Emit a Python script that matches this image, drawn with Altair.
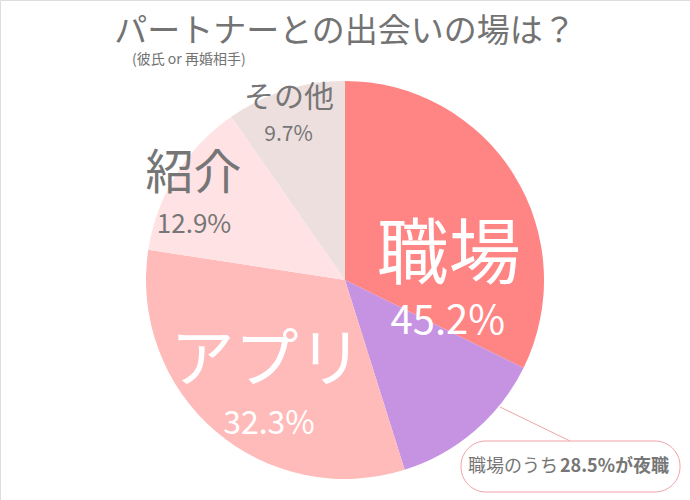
import altair as alt
import pandas as pd

# ---- data ----
categories = ["職場", "アプリ", "紹介", "その他"]
shares = [45.2, 32.3, 12.9, 9.7]
share_labels = ["45.2%", "32.3%", "12.9%", "9.7%"]
night_share_of_workplace = 28.5  # % of 職場 that is 夜職
slice_names = ["職場(昼)", "夜職", "アプリ", "紹介", "その他"]
slice_colors = ["#FF8585", "#C693E3", "#FFBABA", "#FFE2E4", "#EEDFDF"]
title_text = "パートナーとの出会いの場は？"
subtitle_text = "(彼氏 or 再婚相手)"
note_plain = "職場のうち"
note_bold = "28.5%が夜職"

workplace_night = shares[0] * night_share_of_workplace / 100
slice_values = [shares[0] - workplace_night, workplace_night] + shares[1:]
slices = pd.DataFrame({"name": slice_names, "value": slice_values, "order": list(range(len(slice_names)))})
labels = pd.DataFrame({"cat": categories, "value": shares, "pct": share_labels,
                       "order": list(range(len(categories)))})

CX, CY, R = 345, 280, 199
FONT = "Noto Sans CJK JP"
GRAY = "#767676"

pie = alt.Chart(slices).mark_arc(radius=R).encode(
    theta=alt.Theta("value:Q", stack=True),
    color=alt.Color("name:N", scale=alt.Scale(domain=slice_names, range=slice_colors), legend=None),
    order=alt.Order("order:Q"),
    x=alt.value(CX), y=alt.value(CY),
)


def label_layer(cat, field, size, r, dx, dy, color):
    return alt.Chart(labels).transform_calculate(
        txt=f"datum.cat === '{cat}' ? datum.{field} : ''"
    ).mark_text(
        radius=r, fontSize=size, dx=dx, dy=dy, color=color, font=FONT,
        align="center", baseline="middle"
    ).encode(
        theta=alt.Theta("value:Q", stack=True),
        order=alt.Order("order:Q"),
        text="txt:N",
        x=alt.value(CX), y=alt.value(CY),
    )


label_layers = [
    label_layer("職場", "cat", 72, 105, 0, -8, "white"),
    label_layer("職場", "pct", 40, 105, -1, 58, "white"),
    label_layer("アプリ", "cat", 64, 120.5, 0, -9, "white"),
    label_layer("アプリ", "pct", 32, 120.5, 2.5, 52.6, "white"),
    label_layer("紹介", "cat", 48, 178.4, 0, -10.7, GRAY),
    label_layer("紹介", "pct", 26, 178.4, 0.5, 39.3, GRAY),
    label_layer("その他", "cat", 30, 186.7, 0, -4, GRAY),
    label_layer("その他", "pct", 21, 186.7, -0.5, 33, GRAY),
]

base = alt.Chart(pd.DataFrame({"k": [0]}))

title = base.mark_text(font=FONT, fontSize=33, color="#737373", align="center", baseline="middle").encode(
    x=alt.value(345), y=alt.value(32), text=alt.value(title_text))
subtitle = base.mark_text(font=FONT, fontSize=14, color="#737373", align="left", baseline="middle").encode(
    x=alt.value(132), y=alt.value(60), text=alt.value(subtitle_text))

leader = base.mark_rule(color="#F2A2A9", strokeWidth=1).encode(
    x=alt.value(500), y=alt.value(407), x2=alt.value(570), y2=alt.value(441))
box = base.mark_rect(fill="white", stroke="#F2A2A9", strokeWidth=1, cornerRadius=25).encode(
    x=alt.value(461), x2=alt.value(680), y=alt.value(441), y2=alt.value(492))
note1 = base.mark_text(font=FONT, fontSize=18, color=GRAY, align="left", baseline="middle").encode(
    x=alt.value(468), y=alt.value(467), text=alt.value(note_plain))
note2 = base.mark_text(font=FONT, fontSize=18, fontWeight="bold", color=GRAY, align="left", baseline="middle").encode(
    x=alt.value(560), y=alt.value(467), text=alt.value(note_bold))

chart = alt.layer(pie, *label_layers, title, subtitle, leader, box, note1, note2).properties(
    width=690, height=500, autosize="none", padding=0
).configure_view(stroke=None).configure(background="white")

chart.save("out.html", embed_options={"renderer": "svg", "actions": False})
